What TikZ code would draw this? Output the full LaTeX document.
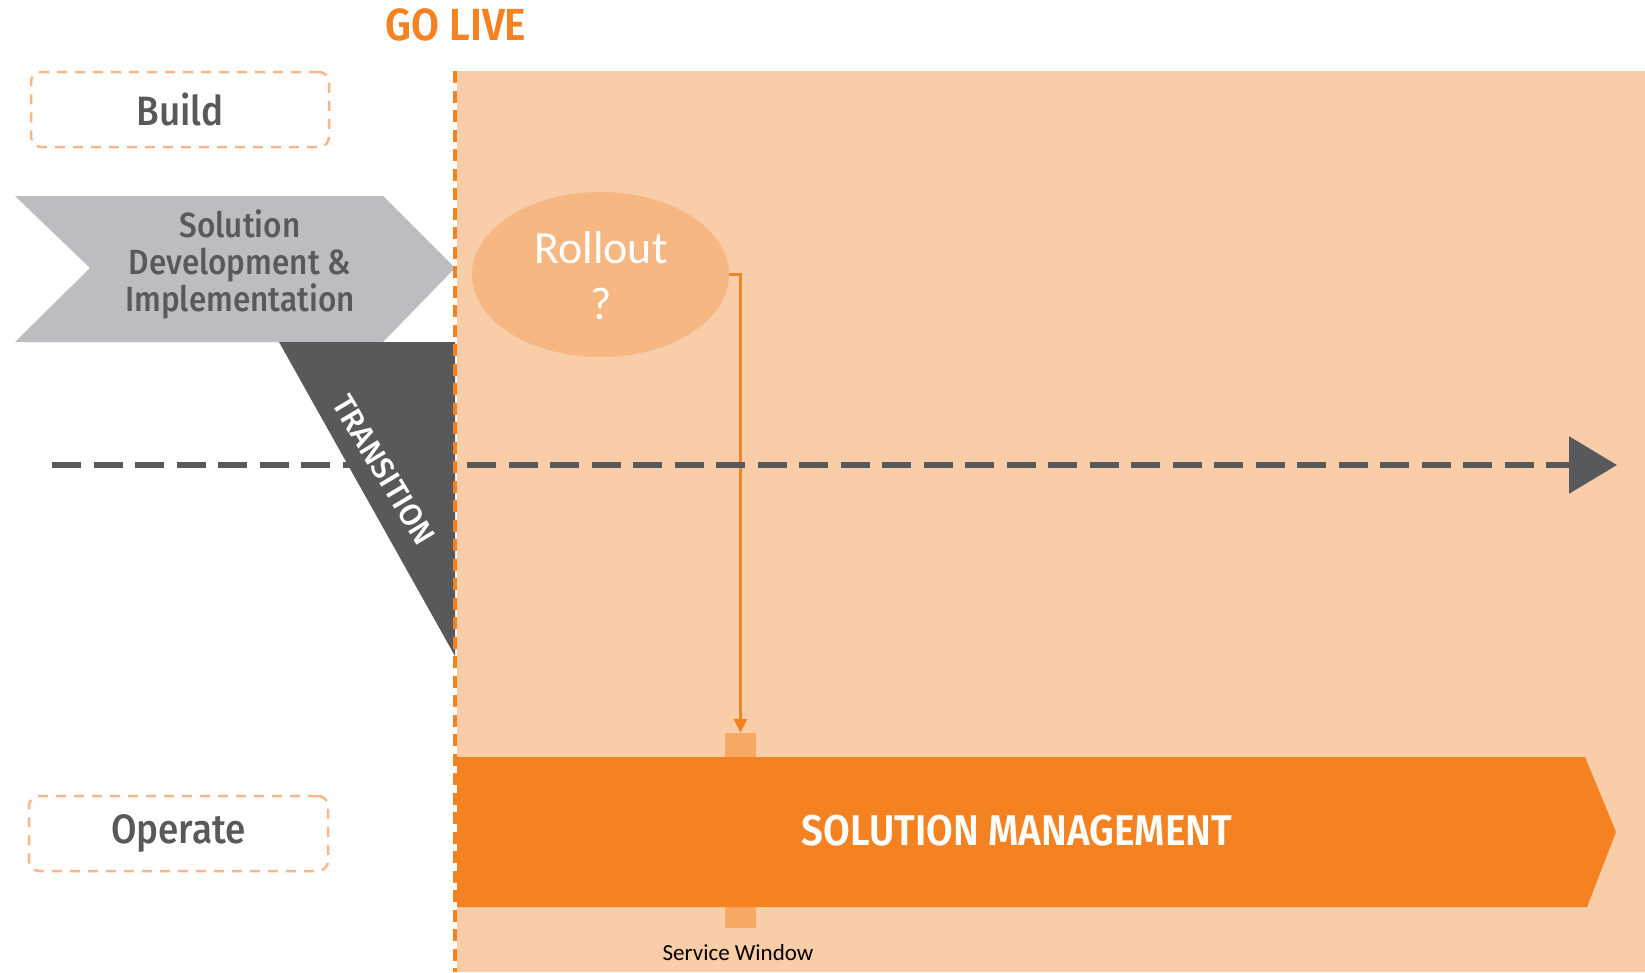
\documentclass[tikz,border=0pt]{standalone}
\usepackage{fontspec}
\setmainfont{Fira Sans}
\newfontfamily\medfont[FakeStretch=0.9]{Fira Sans Medium}
\newfontfamily\medplain{Fira Sans Medium}
\newfontfamily\boldfont[FakeStretch=0.9]{Fira Sans SemiBold}
\newfontfamily\calfont{Carlito}
\usetikzlibrary{arrows.meta,shapes.geometric}
\definecolor{peach}{HTML}{F9CDA7}
\definecolor{orng}{HTML}{F48221}
\definecolor{ellfill}{HTML}{F7B782}
\definecolor{swfill}{HTML}{F6A864}
\definecolor{chevgray}{HTML}{BCBDC0}
\definecolor{darkgray}{HTML}{58595B}
\definecolor{dashorng}{HTML}{F9B788}
\tikzset{
  phasebox/.style={draw=dashorng, line width=2.5pt, dash pattern=on 10pt off 8pt, rounded corners=10pt, inner sep=0pt, font=\medfont\fontsize{41}{44}\selectfont, text=darkgray},
}
\begin{document}
\begin{tikzpicture}[x=1pt,y=-1pt]
\useasboundingbox (0,0) rectangle (1645,972);
\fill[white] (0,0) rectangle (1645,972);
% peach area
\fill[peach] (457,71) rectangle (1645,972);
% GO LIVE
\node[text=orng, font=\boldfont\fontsize{45}{48}\selectfont, anchor=center] (golive) at (456,25) {GO LIVE};
% phase boxes
\node[phasebox, minimum width=298pt, minimum height=75pt] (build) at (180,109.5) {Build};
\node[phasebox, minimum width=299pt, minimum height=75pt] (operate) at (178.5,833.5) {Operate};
% rollout ellipse
\node[ellipse, fill=ellfill, minimum width=257pt, minimum height=165pt, inner sep=0pt] (rollout) at (600.5,274.5) {};
\node[text=white, font=\calfont\fontsize{46}{56}\selectfont, align=center] (rolltext) at (601,276) {Rollout\\?};
% service window
\node[fill=swfill, minimum width=31pt, minimum height=195pt, inner sep=0pt] (sw) at (740.5,830.5) {};
\node[font=\calfont\fontsize{23}{26}\selectfont, text=black] (swlabel) at (738,953) {Service Window};
% connector
\draw[orng, line width=2.5pt, -{Triangle[length=14pt,width=13pt]}] (rollout.east) -| (sw.north);
% solution management bar
\fill[orng] (457,757) -- (1585,757) -- (1616,832) -- (1587,907) -- (457,907) -- cycle;
\node[text=white, font=\boldfont\fontsize{43}{46}\selectfont] (solmgmt) at (1017,831) {SOLUTION MANAGEMENT};
% chevron
\fill[chevgray] (15,196) -- (383,196) -- (455,268) -- (383,342) -- (15,342) -- (90,268) -- cycle;
\node[text=darkgray, font=\medfont\fontsize{35}{37}\selectfont, align=center] (soldev) at (240,264) {Solution\\Development \&\\Implementation};
% timeline
\coordinate (tlstart) at (52,465);
\coordinate (tlend) at (1617,465);
\draw[darkgray, line width=6pt, dash pattern=on 29pt off 12.5pt, -{Triangle[length=48pt,width=56pt]}] (tlstart) -- (tlend);
% transition triangle
\fill[darkgray] (279,342) -- (455,342) -- (455,656) -- cycle;
\node[text=white, font=\medplain\fontsize{31}{34}\selectfont, rotate=-59] (trans) at (384,470) {TRANSITION};
% go live line
\draw[orng, line width=3.5pt, dash pattern=on 12pt off 7.5pt] (455,71) -- (455,972);
\end{tikzpicture}
\end{document}
